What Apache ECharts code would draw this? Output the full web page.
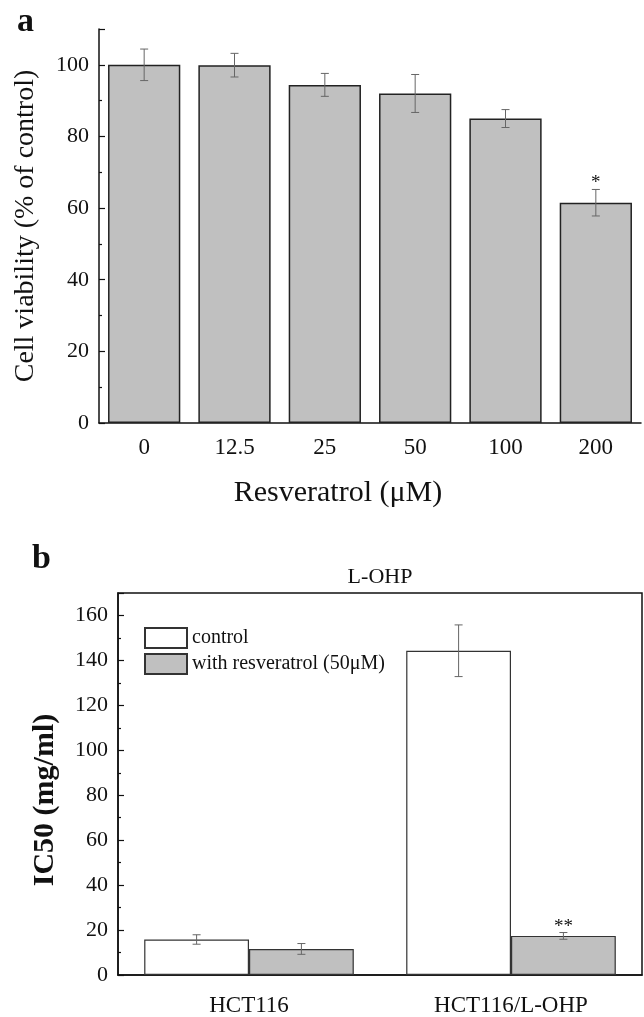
<!DOCTYPE html>
<html>
<head>
<meta charset="utf-8">
<script src="https://cdn.jsdelivr.net/npm/echarts@6/dist/echarts.min.js"></script>
<style>
html, body { margin: 0; padding: 0; background: #fff; }
#chart { width: 644px; height: 1017px; }
</style>
</head>
<body>
<div id="chart"></div>
<script>
// panel a: viability vs resveratrol dose
const doses = ['0', '12.5', '25', '50', '100', '200'];
const viability = [100.0, 99.9, 94.4, 92.0, 85.0, 61.5];
const viabilityErr = [4.4, 3.3, 3.2, 5.3, 2.5, 3.7];
const viabilitySig = ['', '', '', '', '', '*'];

// panel b: IC50 of L-OHP
const cellLines = ['HCT116', 'HCT116/L-OHP'];
const ic50Control = [15.8, 144.3];
const ic50ControlErr = [2.1, 11.5];
const ic50ControlSig = ['', ''];
const ic50Resv = [11.6, 17.4];
const ic50ResvErr = [2.4, 1.5];
const ic50ResvSig = ['', '**'];

const SERIF = '"Liberation Serif", "Times New Roman", serif';
const INK = '#111';
const CAT_GAP = 0.2;

// error bars + significance marks drawn through the axis scales
function errorBars(values, errs, sigs, idx, count) {
    return (params, api) => {
        const i = params.dataIndex;
        const band = api.size([1, 0])[0];
        const barW = band * (1 - CAT_GAP) / count;
        const cx = api.coord([i, 0])[0] + (idx - (count - 1) / 2) * barW;
        const yHi = api.coord([i, values[i] + errs[i]])[1];
        const yLo = api.coord([i, values[i] - errs[i]])[1];
        const cap = 4;
        const style = { stroke: '#666', lineWidth: 1 };
        const children = [
            { type: 'line', shape: { x1: cx, y1: yHi, x2: cx, y2: yLo }, style },
            { type: 'line', shape: { x1: cx - cap, y1: yHi, x2: cx + cap, y2: yHi }, style },
            { type: 'line', shape: { x1: cx - cap, y1: yLo, x2: cx + cap, y2: yLo }, style }
        ];
        if (sigs[i]) {
            children.push({
                type: 'text',
                style: { text: sigs[i], x: cx, y: yHi - 6, textAlign: 'center', textVerticalAlign: 'middle',
                    font: '19px ' + SERIF, fill: INK }
            });
        }
        return { type: 'group', children };
    };
}

const errSeries = (xi, yi, values, errs, sigs, idx, count) => ({
    type: 'custom',
    xAxisIndex: xi,
    yAxisIndex: yi,
    silent: true,
    z: 5,
    encode: { x: 0, y: 1 },
    data: values.map((v, i) => [i, v]),
    renderItem: errorBars(values, errs, sigs, idx, count)
});

const valueAxis = (grid, max, name, nameGap, bold, pad) => ({
    gridIndex: grid,
    type: 'value',
    min: 0,
    max: max,
    interval: 20,
    name: name,
    nameLocation: 'middle',
    nameGap: nameGap,
    nameTextStyle: { fontFamily: SERIF, fontSize: bold ? 30 : 28, fontWeight: bold ? 'bold' : 'normal', color: INK, padding: pad },
    axisLine: { show: true, lineStyle: { color: INK, width: 1.5 } },
    axisTick: { show: true, inside: true, length: 6, lineStyle: { color: INK, width: 1.2 } },
    minorTick: { show: true, splitNumber: 2, length: 3, lineStyle: { color: INK, width: 1.2 } },
    axisLabel: { fontFamily: SERIF, fontSize: 22, color: INK, margin: 10, showMaxLabel: false },
    splitLine: { show: false },
    minorSplitLine: { show: false }
});

const chart = echarts.init(document.getElementById('chart'));
chart.setOption({
    animation: false,
    backgroundColor: '#fff',
    graphic: [
        { type: 'text', style: { text: 'a', x: 17, y: 22, textVerticalAlign: 'middle', font: 'bold 34px ' + SERIF, fill: INK } },
        { type: 'text', style: { text: 'b', x: 32, y: 559, textVerticalAlign: 'middle', font: 'bold 34px ' + SERIF, fill: INK } },
        { type: 'text', style: { text: 'L-OHP', x: 380, y: 577, textAlign: 'center', textVerticalAlign: 'middle', font: '22px ' + SERIF, fill: INK } }
    ],
    legend: {
        data: ['control', 'with resveratrol (50μM)'],
        orient: 'vertical',
        left: 144,
        top: 627,
        padding: 0,
        itemWidth: 42,
        itemHeight: 20,
        itemGap: 4,
        icon: 'rect',
        selectedMode: false,
        textStyle: { fontFamily: SERIF, fontSize: 20, color: INK }
    },
    grid: [
        { left: 99, top: 29, right: 3, height: 394 },
        { left: 118, top: 593, right: 2, height: 382, show: true, borderColor: INK, borderWidth: 1.5, backgroundColor: 'transparent' }
    ],
    xAxis: [
        {
            gridIndex: 0, type: 'category', data: doses, position: 'bottom',
            axisLine: { lineStyle: { color: INK, width: 1.5 } },
            axisTick: { alignWithLabel: true, length: 8, lineStyle: { color: INK, width: 1.2 } },
            axisLabel: { fontFamily: SERIF, fontSize: 23, color: INK, margin: 13 },
            name: 'Resveratrol (μM)', nameLocation: 'middle', nameGap: 55,
            nameTextStyle: { fontFamily: SERIF, fontSize: 30, color: INK, padding: [0, 64, 0, 0] }
        },
        {
            // boundary ticks between the dose groups
            gridIndex: 0, type: 'category', data: doses, position: 'bottom',
            axisLine: { show: false },
            axisTick: { length: 4, lineStyle: { color: INK, width: 1.2 } },
            axisLabel: { show: false }
        },
        {
            gridIndex: 1, type: 'category', data: cellLines, position: 'bottom',
            axisLine: { lineStyle: { color: INK, width: 1.5 } },
            axisTick: { show: false },
            axisLabel: { fontFamily: SERIF, fontSize: 23, color: INK, margin: 19 }
        }
    ],
    yAxis: [
        valueAxis(0, 110, 'Cell viability (% of control)', 59, false, [0, 0, 0, 0]),
        valueAxis(1, 170, 'IC50 (mg/ml)', 58, true, [0, 32, 0, 0])
    ],
    series: [
        {
            type: 'bar', xAxisIndex: 0, yAxisIndex: 0, data: viability,
            barCategoryGap: '20%', silent: true,
            itemStyle: { color: '#c0c0c0', borderColor: '#222', borderWidth: 1.5 }
        },
        errSeries(0, 0, viability, viabilityErr, viabilitySig, 0, 1),
        {
            name: 'control', type: 'bar', xAxisIndex: 2, yAxisIndex: 1, data: ic50Control,
            barCategoryGap: '20%', barGap: '0%', silent: true,
            itemStyle: { color: '#fff', borderColor: '#333', borderWidth: 1.2 }
        },
        {
            name: 'with resveratrol (50μM)', type: 'bar', xAxisIndex: 2, yAxisIndex: 1, data: ic50Resv,
            barCategoryGap: '20%', barGap: '0%', silent: true,
            itemStyle: { color: '#c0c0c0', borderColor: '#333', borderWidth: 1.2 }
        },
        errSeries(2, 1, ic50Control, ic50ControlErr, ic50ControlSig, 0, 2),
        errSeries(2, 1, ic50Resv, ic50ResvErr, ic50ResvSig, 1, 2)
    ]
});
</script>
</body>
</html>
